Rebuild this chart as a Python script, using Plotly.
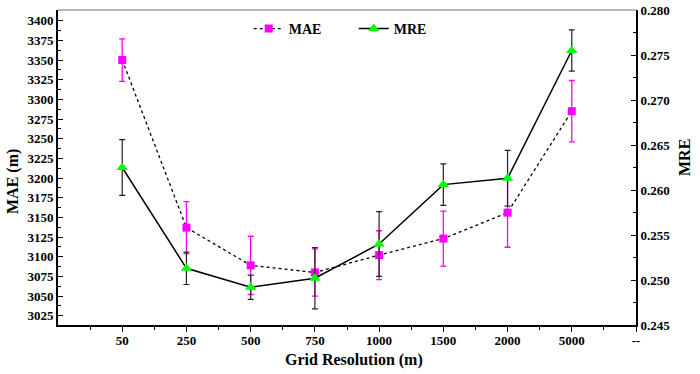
import plotly.graph_objects as go

categories = ["50", "250", "500", "750", "1000", "1500", "2000", "5000"]
extra_tick = ["--"]
mae = [3350, 3137, 3089, 3080, 3102, 3123, 3156, 3285]
mae_err = [27, 33, 37, 30, 31, 35, 44, 39]
mre = [0.2625, 0.2513, 0.2492, 0.2502, 0.2540, 0.2606, 0.2613, 0.2755]
mre_err = [0.0031, 0.0018, 0.00135, 0.0034, 0.0036, 0.0023, 0.0031, 0.0023]

xpos = [i + 1 for i in range(len(categories))]
tick_text = categories + extra_tick
tick_pos = [i + 1 for i in range(len(tick_text))]

FONT = "Liberation Serif"
L, R, T, B, W, H = 58, 64, 10, 49, 700, 374
PW, PH = W - L - R, H - T - B


def px_x(px):
    return (px - L) / PW


def px_y(py):
    return (H - B - py) / PH


fig = go.Figure()
fig.add_trace(go.Scatter(
    x=xpos, y=mae, name="MAE", mode="lines+markers",
    line=dict(color="black", width=1.3, dash="3px,3px"),
    marker=dict(symbol="square", size=8, color="#ff00ff"),
    error_y=dict(type="data", array=mae_err, color="#ff00ff", thickness=1.3, width=3),
    yaxis="y",
))
fig.add_trace(go.Scatter(
    x=xpos, y=mre, name="MRE", mode="lines+markers",
    line=dict(color="black", width=1.5),
    marker=dict(symbol="triangle-up", size=10, color="#00ff00"),
    error_y=dict(type="data", array=mre_err, color="#222222", thickness=1.2, width=3),
    yaxis="y2",
))

fig.add_shape(type="line", xref="paper", yref="paper", x0=0, x1=1, y0=1, y1=1,
              line=dict(color="#a0a0a0", width=1.5))

title_font = dict(size=16, family=FONT, weight="bold", color="black")
fig.add_annotation(text="MRE", xref="paper", yref="paper", x=px_x(684), y=px_y(158),
                   xanchor="center", yanchor="middle", textangle=-90, showarrow=False,
                   font=title_font)
fig.add_annotation(text="MAE (m)", xref="paper", yref="paper", x=px_x(13), y=px_y(182),
                   xanchor="center", yanchor="middle", textangle=-90, showarrow=False,
                   font=title_font)
fig.add_annotation(text="Grid Resolution (m)", xref="paper", yref="paper", x=px_x(354), y=px_y(360),
                   xanchor="center", yanchor="middle", showarrow=False,
                   font=title_font)

fig.update_layout(
    width=W, height=H,
    margin=dict(l=L, r=R, t=T, b=B),
    paper_bgcolor="white", plot_bgcolor="white",
    font=dict(family=FONT, size=13, color="black", weight="bold"),
    showlegend=True,
    legend=dict(orientation="h", x=0.33, y=px_y(29), xanchor="left", yanchor="middle",
                bgcolor="rgba(0,0,0,0)", font=dict(size=14, family=FONT, weight="bold"),
                entrywidth=60, itemwidth=30),
    xaxis=dict(
        range=[0, 9], tickmode="array", tickvals=tick_pos, ticktext=tick_text,
        showgrid=False, zeroline=False, automargin=False,
        showline=True, linecolor="black", linewidth=1.5,
        ticks="outside", ticklen=5, tickwidth=1.2, tickcolor="black",
        minor=dict(tickmode="array", tickvals=[p - 0.5 for p in tick_pos],
                   ticks="outside", ticklen=3, tickwidth=1, tickcolor="black"),
        tickfont=dict(size=13),
        ticklabelstandoff=-2,
    ),
    yaxis=dict(
        range=[3013.2, 3413.6], tick0=3025, dtick=25,
        showgrid=False, zeroline=False, automargin=False,
        showline=True, linecolor="black", linewidth=2,
        ticks="inside", ticklen=5, tickwidth=1.2, tickcolor="black",
        minor=dict(dtick=12.5, tick0=3025, ticks="inside", ticklen=3, tickwidth=1, tickcolor="black"),
        tickfont=dict(size=13),
    ),
    yaxis2=dict(
        range=[0.245, 0.280], tick0=0.245, dtick=0.005, tickformat=".3f",
        overlaying="y", side="right", automargin=False,
        showgrid=False, zeroline=False,
        showline=True, linecolor="black", linewidth=2,
        ticks="inside", ticklen=5, tickwidth=1.2, tickcolor="black",
        minor=dict(dtick=0.0025, tick0=0.245, ticks="inside", ticklen=3, tickwidth=1, tickcolor="black"),
        tickfont=dict(size=13),
    ),
)

fig.write_html("out.html", config={"displayModeBar": False},
               post_script="document.body.style.margin='0px';")
